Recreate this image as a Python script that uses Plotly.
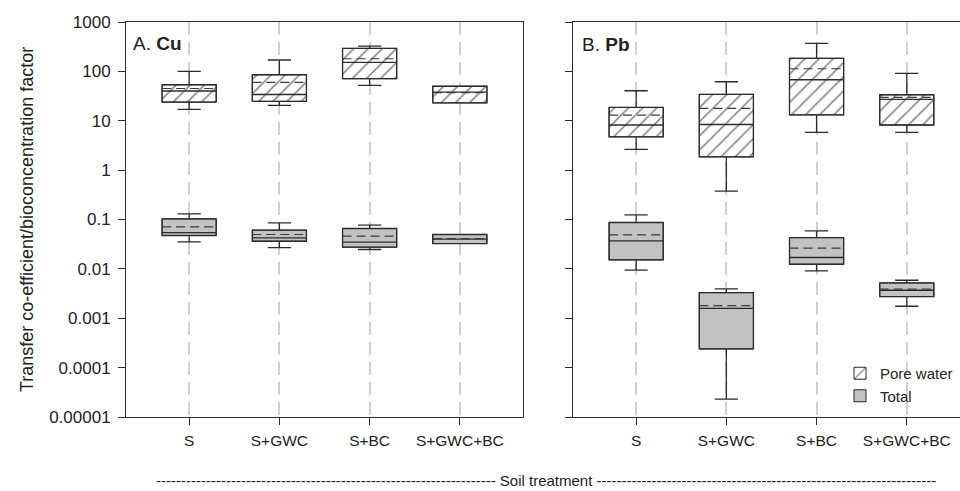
import plotly.graph_objects as go

categories = ["S", "S+GWC", "S+BC", "S+GWC+BC"]

# Panel A: Cu
cu_pw_low = [17, 20.5, 52, 23]
cu_pw_q1 = [23.9, 24.7, 71, 23]
cu_pw_med = [40, 34, 152, 38]
cu_pw_mean = [45, 60, 180, 37]
cu_pw_q3 = [53.6, 85.5, 292, 50]
cu_pw_high = [100, 170, 326, 50]

cu_tot_low = [0.0352, 0.027, 0.0247, 0.0326]
cu_tot_q1 = [0.0474, 0.0363, 0.0275, 0.0326]
cu_tot_med = [0.054, 0.0425, 0.0347, 0.040]
cu_tot_mean = [0.071, 0.0497, 0.046, 0.041]
cu_tot_q3 = [0.103, 0.0608, 0.0657, 0.0497]
cu_tot_high = [0.13, 0.0855, 0.0767, 0.0497]

# Panel B: Pb
pb_pw_low = [2.62, 0.375, 5.8, 5.8]
pb_pw_q1 = [4.73, 1.86, 13.2, 8.2]
pb_pw_med = [8.2, 8.4, 67.6, 27]
pb_pw_mean = [13, 17.8, 113, 29.8]
pb_pw_q3 = [18.6, 34.2, 184, 33.6]
pb_pw_high = [40.5, 61.7, 370, 91]

pb_tot_low = [0.0094, 0.0000231, 0.0091, 0.00175]
pb_tot_q1 = [0.0152, 0.000239, 0.0124, 0.00275]
pb_tot_med = [0.0369, 0.00159, 0.017, 0.00369]
pb_tot_mean = [0.0488, 0.00181, 0.0262, 0.0039]
pb_tot_q3 = [0.087, 0.00331, 0.0431, 0.00519]
pb_tot_high = [0.124, 0.00393, 0.0588, 0.00589]

ytick_vals = [1e-5, 1e-4, 1e-3, 1e-2, 1e-1, 1, 10, 100, 1000]
ytick_text = ["0.00001", "0.0001", "0.001", "0.01", "0.1", "1", "10", "100", "1000"]

positions = list(range(len(categories)))

LINE = "#2b2b2b"
TXT = "#222222"
GRAY = "#c2c2c2"
BOXW = 0.6
FONT = "Liberation Sans, Arial, sans-serif"

# layout geometry (pixels)
W, H = 960, 491
L, R, T, B = 126, 0, 22, 74
PW = W - L - R
PH = H - T - B
left_dom = [0, 397 / PW]
right_dom = [(573 - L) / PW, 1.0]


def px_x(p):
    return (p - L) / PW


def px_y(p):
    return (T + PH - p) / PH


fig = go.Figure()


def add_fill(xa, ya, q1, q3, kind, show_legend):
    if kind == "pw":
        marker = dict(color="white",
                      pattern=dict(shape="/", fgcolor="#111111", bgcolor="white",
                                   size=10, solidity=0.16),
                      line=dict(width=1, color=LINE))
        name = "Pore water"
    else:
        marker = dict(color=GRAY, line=dict(width=1, color=LINE))
        name = "Total"
    fig.add_trace(go.Bar(
        x=positions, y=[b - a for a, b in zip(q1, q3)], base=q1,
        width=BOXW, marker=marker, name=name, showlegend=show_legend,
        xaxis=xa, yaxis=ya, hoverinfo="skip"))


def add_box(xa, ya, low, q1, med, q3, high):
    fig.add_trace(go.Box(
        x=positions, q1=q1, median=med, q3=q3, lowerfence=low, upperfence=high,
        width=BOXW, whiskerwidth=0.43,
        line=dict(color=LINE, width=1.3), fillcolor="rgba(0,0,0,0)",
        boxpoints=False, showlegend=False, xaxis=xa, yaxis=ya, hoverinfo="skip"))


def add_mean(xa, ya, mean):
    xs, ys = [], []
    for p, m in zip(positions, mean):
        xs += [p - BOXW / 2, p + BOXW / 2, None]
        ys += [m, m, None]
    fig.add_trace(go.Scatter(
        x=xs, y=ys, mode="lines", line=dict(color="#3a3a3a", width=1.2, dash="9px,5px"),
        showlegend=False, xaxis=xa, yaxis=ya, hoverinfo="skip"))


groups = [
    ("x", "y", cu_pw_low, cu_pw_q1, cu_pw_med, cu_pw_mean, cu_pw_q3, cu_pw_high, "pw", True),
    ("x", "y", cu_tot_low, cu_tot_q1, cu_tot_med, cu_tot_mean, cu_tot_q3, cu_tot_high, "tot", True),
    ("x2", "y2", pb_pw_low, pb_pw_q1, pb_pw_med, pb_pw_mean, pb_pw_q3, pb_pw_high, "pw", False),
    ("x2", "y2", pb_tot_low, pb_tot_q1, pb_tot_med, pb_tot_mean, pb_tot_q3, pb_tot_high, "tot", False),
]
for g in groups:
    add_fill(g[0], g[1], g[3], g[6], g[8], g[9])
for g in groups:
    add_box(g[0], g[1], g[2], g[3], g[4], g[6], g[7])
for g in groups:
    add_mean(g[0], g[1], g[5])

xcommon = dict(type="linear", tickvals=positions, ticktext=categories,
               showline=True, linecolor=LINE, linewidth=1, mirror=True,
               ticks="outside", ticklen=7, tickcolor=LINE, ticklabelstandoff=2,
               showgrid=True, gridcolor="#d0d0d0", gridwidth=1.5, griddash="13px,7px",
               zeroline=False, tickfont=dict(family=FONT, size=15.5, color=TXT))
ycommon = dict(type="log", range=[-5, 3], tickvals=ytick_vals, ticktext=ytick_text,
               showline=True, linecolor=LINE, linewidth=1,
               ticks="outside", ticklen=7, tickcolor=LINE, showgrid=False, zeroline=False,
               ticklabelstandoff=4,
               tickfont=dict(family=FONT, size=17, color=TXT))

fig.update_layout(
    width=W, height=H,
    margin=dict(l=L, r=R, t=T, b=B),
    paper_bgcolor="white", plot_bgcolor="white",
    barmode="overlay",
    font=dict(family=FONT, color=TXT),
    xaxis=dict(domain=left_dom, anchor="y", range=[-0.7, 3.7], **xcommon),
    xaxis2=dict(domain=right_dom, anchor="y2", range=[-0.7, 3.59], **xcommon),
    yaxis=dict(anchor="x", mirror=True, **ycommon),
    yaxis2=dict(anchor="x2", mirror=False, showticklabels=False, **ycommon),
    legend=dict(x=px_x(840), y=px_y(357), xanchor="left", yanchor="top",
                bgcolor="rgba(0,0,0,0)", font=dict(family=FONT, size=15, color=TXT),
                tracegroupgap=0),
)

fig.add_annotation(text="A. <b>Cu</b>", xref="paper", yref="paper", x=px_x(131), y=px_y(44),
                   xanchor="left", yanchor="middle", showarrow=False,
                   font=dict(family=FONT, size=19, color=TXT))
fig.add_annotation(text="B. <b>Pb</b>", xref="paper", yref="paper", x=px_x(580), y=px_y(45),
                   xanchor="left", yanchor="middle", showarrow=False,
                   font=dict(family=FONT, size=19, color=TXT))
fig.add_annotation(text="Transfer co-efficient/bioconcentration factor", textangle=-90,
                   xref="paper", yref="paper", x=px_x(27), y=px_y(220),
                   xanchor="center", yanchor="middle", showarrow=False,
                   font=dict(family=FONT, size=18, color=TXT))
dashes = "-" * 68
fig.add_annotation(text=dashes + " Soil treatment " + dashes,
                   xref="paper", yref="paper", x=px_x(546), y=px_y(480),
                   xanchor="center", yanchor="middle", showarrow=False,
                   font=dict(family=FONT, size=15, color=TXT))

fig.write_html(
    "out.html",
    config={"displayModeBar": False},
    post_script="document.body.style.margin='0px';document.body.style.overflow='hidden';",
)
